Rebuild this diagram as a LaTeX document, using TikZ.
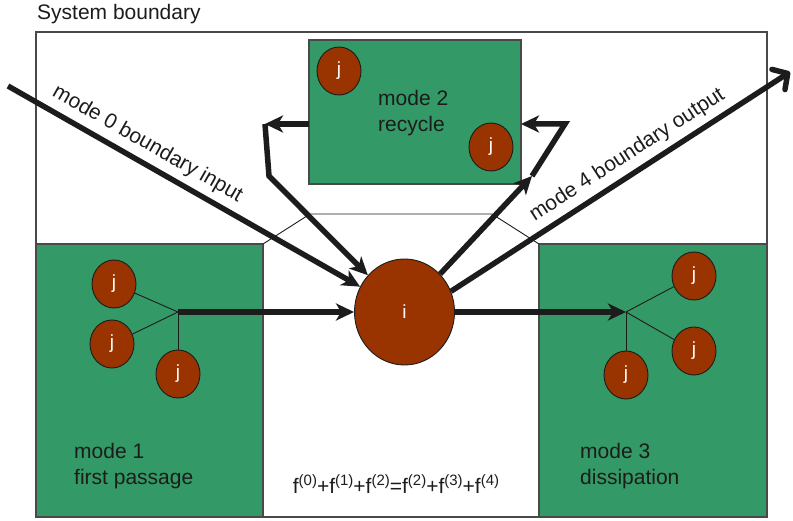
\documentclass[tikz,border=0pt]{standalone}
\usepackage{fontspec}
\setmainfont{Liberation Sans}
\usetikzlibrary{arrows.meta,shapes.geometric}

\definecolor{modegreen}{RGB}{51,153,102}
\definecolor{nodebrown}{RGB}{153,51,0}
\definecolor{inkgray}{RGB}{28,28,28}
\newcommand{\upidx}[1]{\raisebox{7.5pt}{\fontsize{15}{15}\selectfont(#1)}}

\begin{document}
\begin{tikzpicture}[
    x=1pt, y=-1pt,
    boxline/.style={
      draw=inkgray!80,
      line width=1.2pt,
      inner sep=0pt,
      outer sep=0pt
    },
    modebox/.style={
      boxline,
      fill=modegreen
    },
    jnode/.style={
      ellipse,
      draw=inkgray,
      fill=nodebrown,
      line width=0.9pt,
      minimum width=44pt,
      minimum height=48pt,
      inner sep=0pt,
      text=white,
      font=\fontsize{19}{19}\selectfont
    },
    modetext/.style={
      anchor=west,
      align=left,
      inner sep=0pt,
      text=inkgray,
      font=\fontsize{21}{26}\selectfont
    },
    flow/.style={
      line width=5.5pt,
      draw=inkgray,
      -{Stealth[length=18pt,width=17pt,inset=5pt]}
    },
    spoke/.style={
      line width=0.9pt,
      draw=inkgray
    }
  ]

  \useasboundingbox (0,0) rectangle (793,521);

  % system and the three mode regions
  \node[boxline, minimum width=731pt, minimum height=485pt] (sys) at (401.5,274.5) {};
  \node[modetext] (syslabel) at (37,14) {System boundary};

  \node[modebox, minimum width=227pt, minimum height=273pt] (m1) at (149.5,380.5) {};
  \node[modebox, minimum width=228pt, minimum height=273pt] (m3) at (653,380.5) {};
  \node[modebox, minimum width=212pt, minimum height=144pt] (m2) at (415,112) {};

  \coordinate (tl) at (310,214);
  \coordinate (tr) at (492,214);
  \draw[spoke] (m1.north east) -- (tl) -- (tr) -- (m3.north west);

  \node[modetext] (m1text) at (74,466) {mode 1\\first passage};
  \node[modetext] (m3text) at (580,466) {mode 3\\dissipation};
  \node[modetext] (m2text) at (378,113) {mode 2\\recycle};

  \node[modetext, anchor=center, font=\fontsize{21}{21}\selectfont] (balance) at (396,484)
    {f\upidx{0}+f\upidx{1}+f\upidx{2}=f\upidx{2}+f\upidx{3}+f\upidx{4}};

  % compartments
  \node[jnode, minimum width=100pt, minimum height=106pt] (i) at (404.5,312) {i};

  \node[jnode] (jl1) at (114,284) {j};
  \node[jnode] (jl2) at (112,344) {j};
  \node[jnode] (jl3) at (178,374) {j};
  \coordinate (hl) at (178,312);

  \node[jnode] (jr1) at (694,276) {j};
  \node[jnode] (jr2) at (694,351) {j};
  \node[jnode] (jr3) at (626,375) {j};
  \coordinate (hr) at (626,312);

  \node[jnode] (jt1) at (339,71) {j};
  \node[jnode] (jt2) at (491,147) {j};

  \draw[spoke] (jl1) -- (hl);
  \draw[spoke] (jl2) -- (hl);
  \draw[spoke] (jl3) -- (hl);
  \draw[spoke] (jr1) -- (hr);
  \draw[spoke] (jr2) -- (hr);
  \draw[spoke] (jr3) -- (hr);

  % flows
  \coordinate (in0) at (8,86);
  \coordinate (out4) at (790,72);
  \coordinate (bl) at (265,124);
  \coordinate (bl2) at (269,176);
  \coordinate (br) at (565,124);
  \coordinate (br2) at (532,176);

  \draw[flow] (hl) -- (i);
  \draw[flow] (i) -- (hr);

  \draw[flow] (in0) -- (i) node[modetext, anchor=south, pos=0.37, sloped, above=6pt] {mode 0 boundary input};

  \draw[flow] (m2.west |- bl) -- (bl);
  \draw[flow] (bl) -- (bl2) -- (i);

  \draw[flow] (i) -- (br2);
  \draw[flow] (br2) -- (br) -- (m2.east |- br);

  \draw[line width=5.5pt, draw=inkgray, -{Straight Barb[length=11pt,width=24pt,round]}] (i.24) -- (out4)
    node[modetext, anchor=south, pos=0.55, sloped, above=6pt] {mode 4 boundary output};

\end{tikzpicture}
\end{document}
